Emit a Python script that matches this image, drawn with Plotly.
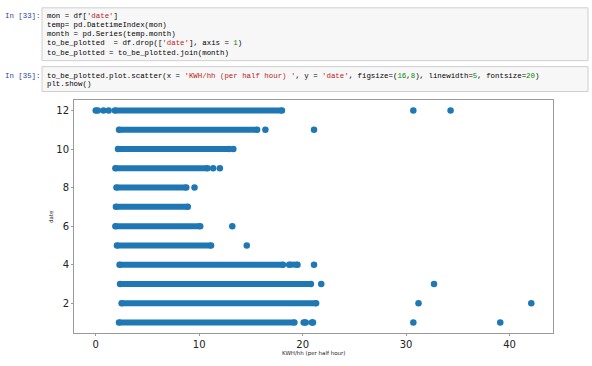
import plotly.graph_objects as go

# ---------------- data ----------------
# dense bands of points: month, lowest and highest kWh of each continuous run
seg_month = [12, 11, 10, 9, 8, 7, 6, 5, 4, 4, 3, 2, 1, 1, 1]
seg_lo    = [1.85, 2.25, 2.15, 1.9, 2.0, 1.95, 1.9, 2.05, 2.3, 18.7, 2.35, 2.5, 2.25, 20.1, 20.9]
seg_hi    = [18.0, 15.6, 12.9, 10.8, 8.75, 8.9, 10.1, 11.15, 18.1, 19.5, 20.8, 21.3, 19.2, 20.3, 21.0]

# isolated points
pt_month = [12, 12, 12, 12, 12, 12, 11, 11, 10, 9, 9, 8, 6, 5, 4, 3, 3, 2, 2, 1, 1]
pt_kwh   = [0.0, 0.2, 0.75, 1.25, 30.7, 34.3, 16.4, 21.1, 13.3, 11.35, 12.0, 9.55, 13.2, 14.6,
            21.1, 21.8, 32.7, 31.2, 42.1, 30.7, 39.1]

x_ticks = [0, 10, 20, 30, 40]
y_ticks = [2, 4, 6, 8, 10, 12]
x_label = "KWH/hh (per half hour)"
y_label = "date"

cell1_prompt = "In [33]:"
cell1_code = [
    [("mon = df[", None), ("'date'", "s"), ("]", None)],
    [("temp= pd.DatetimeIndex(mon)", None)],
    [("month = pd.Series(temp.month)", None)],
    [("to_be_plotted  = df.drop([", None), ("'date'", "s"), ("], axis = ", None), ("1", "n"), (")", None)],
    [("to_be_plotted = to_be_plotted.join(month)", None)],
]
cell2_prompt = "In [35]:"
cell2_code = [
    [("to_be_plotted.plot.scatter(x = ", None), ("'KWH/hh (per half hour) '", "s"),
     (", y = ", None), ("'date'", "s"), (", figsize=(", None), ("16", "n"), (",", None), ("8", "n"),
     ("), linewidth=", None), ("5", "n"), (", fontsize=", None), ("20", "n"), (")", None)],
    [("plt.show()", None)],
]

# ---------------- figure ----------------
W, H = 592, 366
L, R, T, B = 74, 553, 99.5, 333.3
BLUE = "#1f77b4"


def px(x):
    return (x - L) / (R - L)


def py(y):
    return (B - y) / (B - T)


seg_x, seg_y = [], []
for m, lo, hi in zip(seg_month, seg_lo, seg_hi):
    seg_x += [lo, hi, None]
    seg_y += [m, m, None]

fig = go.Figure()
fig.add_trace(go.Scatter(x=seg_x, y=seg_y, mode="lines+markers",
                         line=dict(color=BLUE, width=6),
                         marker=dict(color=BLUE, size=6.5, line=dict(width=0)),
                         hoverinfo="skip", showlegend=False))
fig.add_trace(go.Scatter(x=pt_kwh, y=pt_month, mode="markers",
                         marker=dict(color=BLUE, size=6.5, line=dict(width=0)),
                         showlegend=False))

axis_common = dict(showline=True, linecolor="#9a9a9a", linewidth=1, mirror=True,
                   ticks="outside", ticklen=2, tickcolor="#9a9a9a", showgrid=False,
                   zeroline=False, tickfont=dict(family="DejaVu Sans", size=10, color="#222"))
fig.update_xaxes(range=[-2.1, 44.2], tickvals=x_ticks, **axis_common)
fig.update_yaxes(range=[0.45, 12.55], tickvals=y_ticks, **axis_common)

COL = {"s": "#BA2121", "n": "#008800", None: "#000000"}
MONO = "Liberation Mono"
FS = 7.4


def rich(parts):
    out = ""
    for txt, kind in parts:
        t = txt.replace(" ", "\u00a0")
        out += "<span style='color:%s'>%s</span>" % (COL[kind], t)
    return out


shapes = []
annots = []


def cell(top, bottom, prompt, lines, first_y, dy=9.2):
    shapes.append(dict(type="rect", xref="paper", yref="paper",
                       x0=px(42), x1=px(588), y0=py(bottom), y1=py(top),
                       fillcolor="#f7f7f7", line=dict(color="#cfcfcf", width=1), layer="below"))
    annots.append(dict(xref="paper", yref="paper", x=px(3), y=py(first_y), xanchor="left",
                       yanchor="middle", showarrow=False, text=prompt.replace(" ", "\u00a0"),
                       font=dict(family=MONO, size=FS, color="#303F9F")))
    for i, parts in enumerate(lines):
        annots.append(dict(xref="paper", yref="paper", x=px(45), y=py(first_y + i * dy),
                           xanchor="left", yanchor="middle", showarrow=False, text=rich(parts),
                           font=dict(family=MONO, size=FS, color="#000")))


cell(7, 60, cell1_prompt, cell1_code, 15.2)
cell(66, 91, cell2_prompt, cell2_code, 75.2, dy=8.6)

annots.append(dict(xref="paper", yref="paper", x=px(313), y=py(354), xanchor="center",
                   yanchor="middle", showarrow=False, text=x_label,
                   font=dict(family="DejaVu Sans", size=5.5, color="#222")))
annots.append(dict(xref="paper", yref="paper", x=px(51), y=py(217), xanchor="center",
                   yanchor="middle", showarrow=False, text=y_label, textangle=-90,
                   font=dict(family="DejaVu Sans", size=5.5, color="#222")))

fig.update_layout(width=W, height=H, autosize=False,
                  margin=dict(l=L, r=W - R, t=T, b=H - B, pad=0),
                  paper_bgcolor="white", plot_bgcolor="white",
                  shapes=shapes, annotations=annots)

fig.write_html("out.html", config={"displayModeBar": False},
               post_script="document.body.style.margin='0';")
